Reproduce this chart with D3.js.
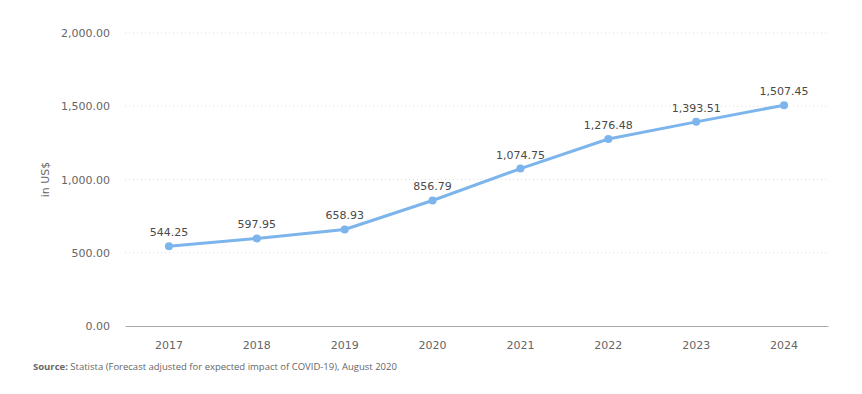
<!DOCTYPE html>
<html>
<head>
<meta charset="utf-8">
<script src="https://cdn.jsdelivr.net/npm/d3@7"></script>
<style>
  body { margin: 0; background: #fff; }
  svg { display: block; font-family: "DejaVu Sans", sans-serif; }
</style>
</head>
<body>
<svg id="chart" width="862" height="394"></svg>
<script>
const years = ['2017', '2018', '2019', '2020', '2021', '2022', '2023', '2024'];
const values = [544.25, 597.95, 658.93, 856.79, 1074.75, 1276.48, 1393.51, 1507.45];
const yTicks = [0, 500, 1000, 1500, 2000];

const svg = d3.select('#chart');
const margin = { top: 33, right: 34, bottom: 68, left: 125 };
const width = 862 - margin.left - margin.right;
const height = 394 - margin.top - margin.bottom;

const x = d3.scaleBand().domain(years).range([0, width]);
const y = d3.scaleLinear().domain([0, 2000]).range([height, 0]);
const fmt = d3.format(',.2f');

const g = svg.append('g').attr('transform', `translate(${margin.left},${margin.top})`);

// grid
g.selectAll('.grid')
  .data(yTicks.filter(d => d > 0))
  .enter().append('line')
  .attr('x1', 0).attr('x2', width)
  .attr('y1', d => y(d)).attr('y2', d => y(d))
  .attr('stroke', '#dcdcdc')
  .attr('stroke-dasharray', '1,3');

// y axis labels
const yAxis = g.append('g')
  .call(d3.axisLeft(y).tickValues(yTicks).tickFormat(fmt).tickSize(0).tickPadding(15));
yAxis.select('.domain').remove();
yAxis.selectAll('text').attr('fill', '#666').style('font-size', '11px').style('font-family', '"DejaVu Sans", sans-serif');

// x axis
const xAxis = g.append('g')
  .attr('transform', `translate(0,${height})`)
  .call(d3.axisBottom(x).tickSize(0).tickPadding(15));
xAxis.select('.domain').attr('stroke', '#aaa');
xAxis.selectAll('text').attr('fill', '#666').style('font-size', '11px').style('font-family', '"DejaVu Sans", sans-serif');

// y title
svg.append('text')
  .attr('transform', `translate(49,${margin.top + y(1000)}) rotate(-90)`)
  .attr('text-anchor', 'middle')
  .attr('fill', '#666')
  .style('font-size', '11px')
  .text('in US$');

const cx = d => x(d) + x.bandwidth() / 2;

const line = d3.line()
  .x((d, i) => cx(years[i]))
  .y(d => y(d));

g.append('path')
  .datum(values)
  .attr('d', line)
  .attr('fill', 'none')
  .attr('stroke', '#7cb5ec')
  .attr('stroke-width', 3)
  .attr('stroke-linejoin', 'round');

g.selectAll('.dot')
  .data(values)
  .enter().append('circle')
  .attr('cx', (d, i) => cx(years[i]))
  .attr('cy', d => y(d))
  .attr('r', 4)
  .attr('fill', '#7cb5ec');

g.selectAll('.lbl')
  .data(values)
  .enter().append('text')
  .attr('x', (d, i) => cx(years[i]))
  .attr('y', d => y(d) - 10)
  .attr('text-anchor', 'middle')
  .attr('fill', '#4a4a4a')
  .style('font-size', '11px')
  .text(d => fmt(d));

// source
const src = svg.append('text')
  .attr('x', 33)
  .attr('y', 370)
  .attr('fill', '#666')
  .style('font-family', '"Open Sans", sans-serif')
  .style('font-size', '9.5px');
src.append('tspan').style('font-weight', 'bold').text('Source:');
src.append('tspan').text(' Statista (Forecast adjusted for expected impact of COVID-19), August 2020');
</script>
</body>
</html>
